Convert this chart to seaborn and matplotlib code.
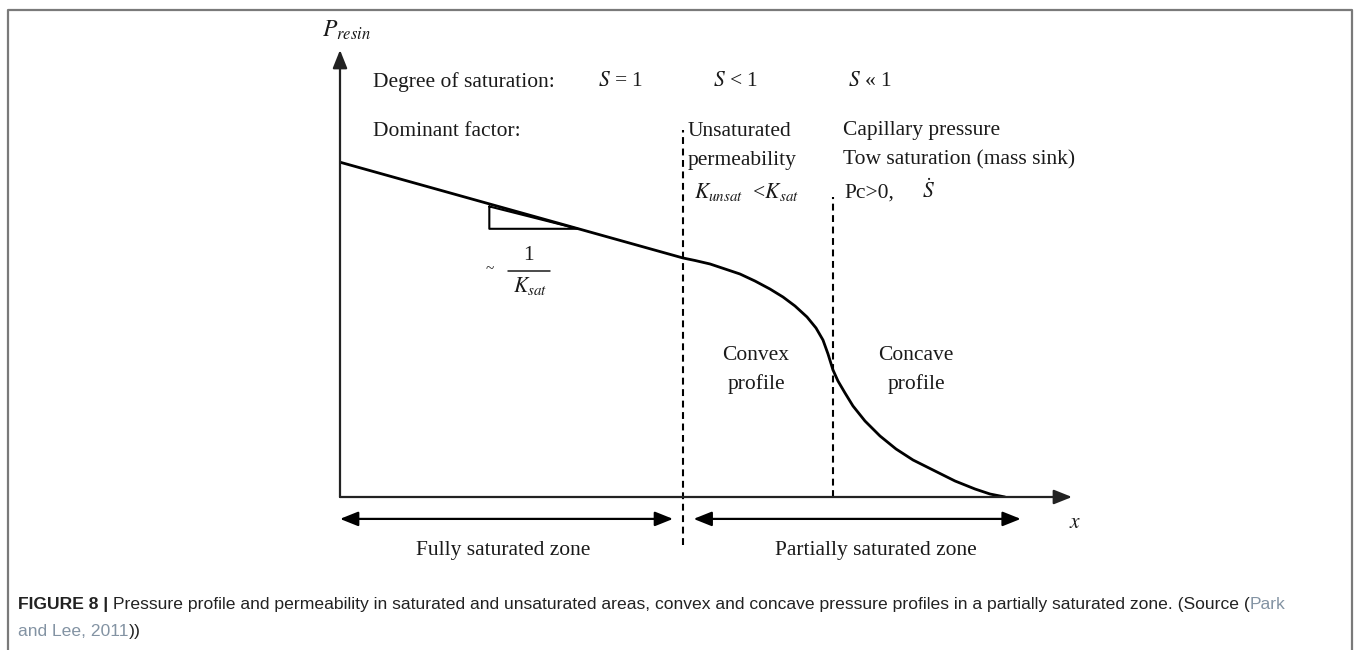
import numpy as np
import pandas as pd
import matplotlib
matplotlib.use("Agg")
import matplotlib.pyplot as plt
import seaborn as sns

# ---------------- data (schematic pressure profile) ----------------
x_pos = [0.000, 4.686, 4.850, 5.055, 5.260, 5.464, 5.669, 5.874, 6.052, 6.216, 6.380,
         6.503, 6.598, 6.667, 6.735, 6.803, 6.899, 7.008, 7.172, 7.377, 7.596, 7.828,
         8.156, 8.402, 8.675, 8.880, 9.085]
p_val = [7.49, 5.347, 5.291, 5.213, 5.101, 4.989, 4.832, 4.653, 4.474, 4.273, 4.027,
         3.781, 3.512, 3.199, 2.841, 2.595, 2.327, 2.036, 1.700, 1.365, 1.074, 0.828,
         0.559, 0.358, 0.179, 0.067, 0.000]

zone_bounds = [0.0, 4.69, 6.73, 10.0]          # start, saturation front, S<1 / S<<1 boundary, axis end
tri_x = [2.04, 2.04, 3.25, 2.04]               # slope triangle
tri_y = [6.50, 6.00, 6.00, 6.50]

saturation_labels = [r"$S$ = 1", r"$S$ < 1", r"$S$ « 1"]
zone_labels = ["Fully saturated zone", "Partially saturated zone"]
profile_labels = ["Convex\nprofile", "Concave\nprofile"]

sns.set_theme(style="white")
plt.rcParams["font.family"] = ["Liberation Serif", "DejaVu Serif"]
plt.rcParams["mathtext.fontset"] = "stix"

W, H = 1354, 650
fig = plt.figure(figsize=(W / 100, H / 100), dpi=100)
fig.patch.set_facecolor("white")

over = fig.add_axes([0, 0, 1, 1])
over.set_xlim(0, W)
over.set_ylim(H, 0)
over.axis("off")

# data axes: pixel x 340..1072, pixel y 497..50
ax = fig.add_axes([340 / W, (H - 497) / H, 732 / W, 447 / H])
ax.set_xlim(0, 10)
ax.set_ylim(0, 10)
ax.axis("off")

# frame around figure panel
over.plot([8, 8, 1352, 1352], [660, 10, 10, 660], color="#7a7a7a", lw=1.6, clip_on=False)

# profile curve
profile = pd.DataFrame({"x": x_pos, "p": p_val})
sns.lineplot(data=profile, x="x", y="p", sort=False, estimator=None,
             color="black", lw=2.0, ax=ax)
for ln in ax.lines:
    ln.set_solid_joinstyle("round")
    ln.set_solid_capstyle("round")
ax.set_xlabel("")
ax.set_ylabel("")

# axes arrows
astyle = "-|>,head_length=0.55,head_width=0.22"
ax.annotate("", xy=(0, 10), xytext=(0, 0),
            arrowprops=dict(arrowstyle=astyle, lw=1.6, color="#222222",
                            mutation_scale=20, shrinkA=0, shrinkB=0),
            annotation_clip=False)
ax.annotate("", xy=(zone_bounds[3], 0), xytext=(0, 0),
            arrowprops=dict(arrowstyle=astyle, lw=1.6, color="#222222",
                            mutation_scale=20, shrinkA=0, shrinkB=0),
            annotation_clip=False)

# dashed boundaries
dash = (0, (3.3, 2.2))
ax.plot([zone_bounds[1]] * 2, [-1.07, 8.21], color="black", lw=1.5, ls=dash, clip_on=False)
ax.plot([zone_bounds[2]] * 2, [0.0, 6.71], color="black", lw=1.5, ls=dash, clip_on=False)

# slope triangle
ax.plot(tri_x, tri_y, color="black", lw=1.5)

# zone double arrows
dstyle = "<|-|>,head_length=0.55,head_width=0.22"
ax.annotate("", xy=(zone_bounds[0], -0.49), xytext=(zone_bounds[1] - 0.14, -0.49),
            arrowprops=dict(arrowstyle=dstyle, lw=1.6, color="black",
                            mutation_scale=20, shrinkA=0, shrinkB=0),
            annotation_clip=False)
ax.annotate("", xy=(zone_bounds[1] + 0.14, -0.49), xytext=(9.30, -0.49),
            arrowprops=dict(arrowstyle=dstyle, lw=1.6, color="black",
                            mutation_scale=20, shrinkA=0, shrinkB=0),
            annotation_clip=False)

# ---------------- texts (pixel coordinates) ----------------
fs = 15.5
T = dict(color="#1a1a1a", fontsize=fs)
over.text(322, 30, r"$P_{resin}$", fontsize=17, ha="left", va="center", color="#1a1a1a")
over.text(373, 82, "Degree of saturation:", ha="left", va="center", **T)
for xp, lab in zip([598, 713, 848], saturation_labels):
    over.text(xp, 82, lab, ha="left", va="center", **T)
over.text(373, 131, "Dominant factor:", ha="left", va="center", **T)
over.text(688, 131, "Unsaturated", ha="left", va="center", **T)
over.text(688, 160, "permeability", ha="left", va="center", **T)
over.text(694, 198, r"$K_{unsat}$  <$K_{sat}$", ha="left", va="baseline", **T)
over.text(843, 131, "Capillary pressure", ha="left", va="center", **T)
over.text(843, 160, "Tow saturation (mass sink)", ha="left", va="center", **T)
over.text(844, 198, "Pc>0,", ha="left", va="baseline", **T)
over.text(922, 198, r"$\dot{S}$", ha="left", va="baseline", **T)

# slope annotation ~ 1/K_sat
over.text(490, 270, "~", ha="center", va="center", color="#1a1a1a", fontsize=11)
over.text(528, 255, "1", ha="center", va="center", **T)
over.plot([508, 550], [270.5, 270.5], color="#1a1a1a", lw=1.1)
over.text(530, 292, r"$K_{sat}$", ha="center", va="baseline", **T)

for xc, lab in zip([756, 916], profile_labels):
    over.text(xc, 370, lab, ha="center", va="center", linespacing=1.55, **T)

over.text(1075, 524, r"$x$", ha="center", va="center", **T)
for xc, lab in zip([503, 876], zone_labels):
    over.text(xc, 551, lab, ha="center", va="center", **T)

# ---------------- caption ----------------
renderer = fig.canvas.get_renderer()
cap_fs = 12.6
sans = ["Liberation Sans", "DejaVu Sans"]
dark = "#222222"
link = "#8393a3"


def put_pieces(pieces, x0, y):
    x = x0
    for txt, weight, col in pieces:
        t = over.text(x, y, txt, fontsize=cap_fs, family=sans, fontweight=weight,
                      color=col, ha="left", va="baseline")
        bb = t.get_window_extent(renderer)
        x += bb.width


put_pieces([("FIGURE 8 | ", "bold", dark),
            ("Pressure profile and permeability in saturated and unsaturated areas, convex and "
             "concave pressure profiles in a partially saturated zone. (Source (", "normal", dark),
            ("Park", "normal", link)], 18, 609)
put_pieces([("and Lee, 2011", "normal", link), ("))", "normal", dark)], 18, 636)

fig.savefig("out.png", dpi=100, facecolor="white")
